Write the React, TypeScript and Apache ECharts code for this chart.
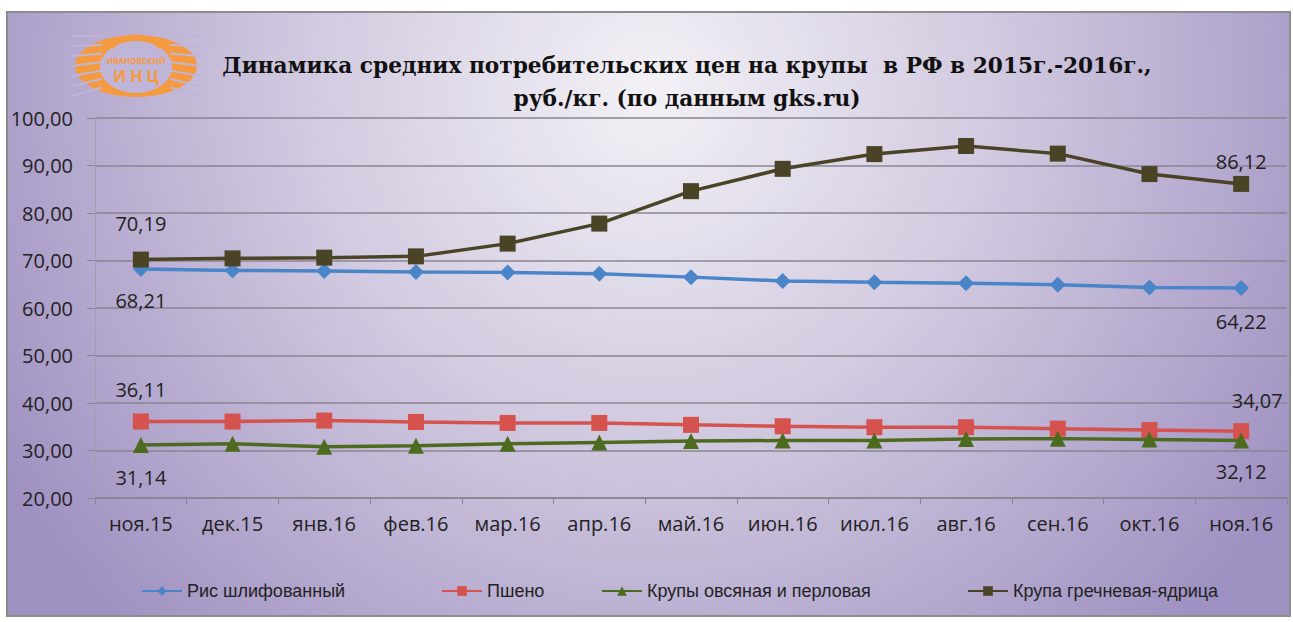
import React, { useEffect, useRef } from "react";
import * as echarts from "echarts";

const categories = ["ноя.15", "дек.15", "янв.16", "фев.16", "мар.16", "апр.16", "май.16", "июн.16", "июл.16", "авг.16", "сен.16", "окт.16", "ноя.16"];
const rice = [68.21, 67.9, 67.8, 67.6, 67.5, 67.2, 66.5, 65.7, 65.4, 65.2, 64.9, 64.3, 64.22];
const millet = [36.11, 36.1, 36.3, 36.0, 35.8, 35.8, 35.4, 35.1, 34.9, 34.9, 34.6, 34.3, 34.07];
const oats = [31.14, 31.4, 30.8, 31.0, 31.4, 31.7, 32.0, 32.1, 32.1, 32.4, 32.5, 32.3, 32.12];
const buckwheat = [70.19, 70.45, 70.6, 70.87, 73.55, 77.77, 84.6, 89.3, 92.4, 94.1, 92.5, 88.2, 86.12];
const seriesNames = ["Рис шлифованный", "Пшено", "Крупы овсяная и перловая", "Крупа гречневая-ядрица"];
const yTicks = { min: 20, max: 100, step: 10 };
const titleLines = ["Динамика средних потребительских цен на крупы  в РФ в 2015г.-2016г.,", "руб./кг. (по данным gks.ru)"];

const fmt = (v: number) => v.toFixed(2).replace(".", ",");
const FONT = "'Open Sans', 'Liberation Sans', sans-serif";
const ORANGE = "#f59a3e";
const LAV = "#bfb5d8";

type LabelCfg = { pos: string; dist: number; dx?: number };

function makeData(values: number[], first: LabelCfg, last: LabelCfg) {
  return values.map((v, i) => {
    if (i === 0 || i === values.length - 1) {
      const c = i === 0 ? first : last;
      return {
        value: v,
        label: {
          show: true,
          position: c.pos,
          distance: c.dist,
          offset: [c.dx || 0, 0],
          formatter: (p: any) => fmt(p.value),
          color: "#222",
          fontSize: 20,
          fontFamily: FONT,
        },
      };
    }
    return v;
  });
}

function logo() {
  const cx = 136, cy = 66;
  const stripes: any[] = [];
  for (let k = -3; k <= 3; k++) {
    const yy = cy + k * 8.5;
    stripes.push({ type: "line", shape: { x1: cx - 64, y1: yy + k * 1.5, x2: cx - 34, y2: yy - 4 }, style: { stroke: LAV, lineWidth: 2.2 } });
    stripes.push({ type: "line", shape: { x1: cx + 64, y1: yy + k * 1.5, x2: cx + 34, y2: yy - 4 }, style: { stroke: LAV, lineWidth: 2.2 } });
  }
  return {
    type: "group",
    z: 10,
    children: [
      { type: "ellipse", shape: { cx, cy, rx: 61, ry: 31 }, style: { fill: ORANGE } },
      ...stripes,
      { type: "ellipse", shape: { cx, cy: cy + 1, rx: 36, ry: 26 }, style: { fill: LAV } },
      { type: "arc", shape: { cx, cy, r: 30, startAngle: Math.PI * 1.2, endAngle: Math.PI * 1.8 }, style: { stroke: ORANGE, lineWidth: 3, fill: "none" } },
      { type: "text", x: cx, y: cy - 6, style: { text: "ИВАНОВСКИЙ", fill: ORANGE, fontSize: 8, fontWeight: "bold", align: "center", verticalAlign: "middle", fontFamily: FONT } },
      { type: "text", x: cx, y: cy + 10, style: { text: "И Н Ц", fill: ORANGE, fontSize: 16, fontWeight: "bold", align: "center", verticalAlign: "middle", fontFamily: FONT } },
    ],
  };
}

export default function App() {
  const ref = useRef<HTMLDivElement>(null);
  useEffect(() => {
    document.body.style.margin = "0";
    if (!ref.current) return;
    const chart = echarts.init(ref.current, undefined, { renderer: "svg" });
    const colors = ["#4a85c9", "#d5524e", "#4d6b1e", "#4a4326"];
    const symbols = ["diamond", "rect", "triangle", "rect"];
    const symbolSizes = [16, 16, 16, 16];
    const datas = [
      makeData(rice, { pos: "bottom", dist: 13 }, { pos: "bottom", dist: 16 }),
      makeData(millet, { pos: "top", dist: 14 }, { pos: "top", dist: 13, dx: 16 }),
      makeData(oats, { pos: "bottom", dist: 14 }, { pos: "bottom", dist: 13 }),
      makeData(buckwheat, { pos: "top", dist: 18 }, { pos: "top", dist: 4 }),
    ];
    const legendLefts = [136, 436, 596, 962];

    chart.setOption({
      animation: false,
      graphic: [
        {
          type: "rect",
          z: -100,
          shape: { x: 7, y: 12, width: 1283, height: 604 },
          style: {
            fill: new echarts.graphic.RadialGradient(650, 90, 760, [
              { offset: 0, color: "#f3f1f6" },
              { offset: 0.45, color: "#d2cae0" },
              { offset: 1, color: "#9e90c1" },
            ], true),
            stroke: "#8c8c8c",
            lineWidth: 2,
          },
        },
        logo(),
      ],
      title: {
        text: titleLines.join("\n"),
        left: 682,
        textAlign: "center",
        top: 44,
        textStyle: {
          fontFamily: "'DejaVu Serif', 'Liberation Serif', serif",
          fontWeight: "bold",
          fontSize: 21.7,
          lineHeight: 33,
          color: "#111",
        },
      },
      legend: seriesNames.map((n, i) => ({
        data: [n],
        left: legendLefts[i],
        top: 577,
        itemWidth: 40,
        itemHeight: 12,
        textStyle: { fontFamily: "'Liberation Sans', sans-serif", fontSize: 18, color: "#222" },
      })),
      grid: { left: 95, right: 6, top: 118, bottom: 124 },
      xAxis: {
        type: "category",
        data: categories,
        boundaryGap: true,
        axisLine: { lineStyle: { color: "#8a8492", width: 1.5 } },
        axisTick: { show: true, length: 6, lineStyle: { color: "#8a8492" } },
        axisLabel: { color: "#222", fontSize: 20, fontFamily: FONT, margin: 15 },
        splitLine: { show: false },
      },
      yAxis: {
        type: "value",
        min: yTicks.min,
        max: yTicks.max,
        interval: yTicks.step,
        axisLine: { show: true, lineStyle: { color: "#a49cb0", width: 1 } },
        axisTick: { show: true, length: 8, lineStyle: { color: "#8a8492" } },
        axisLabel: { color: "#222", fontSize: 20, fontFamily: FONT, margin: 22, formatter: (v: number) => fmt(v) },
        splitLine: { lineStyle: { color: "#8a8492", width: 1.5 } },
      },
      series: seriesNames.map((n, i) => ({
        name: n,
        type: "line",
        data: datas[i],
        symbol: symbols[i],
        symbolSize: symbolSizes[i],
        lineStyle: { color: colors[i], width: 3.5 },
        itemStyle: { color: colors[i] },
        z: 2 + i,
      })),
    });
    return () => chart.dispose();
  }, []);
  return <div ref={ref} style={{ width: 1293, height: 622 }} />;
}
